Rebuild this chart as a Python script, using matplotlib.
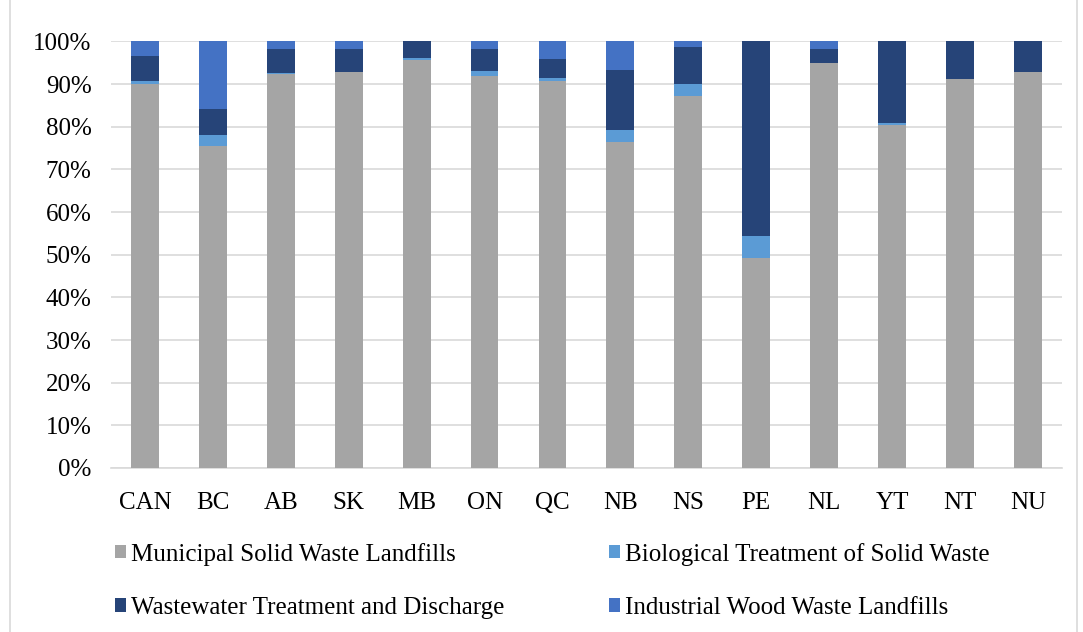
import numpy as np
from matplotlib import pyplot as plt
from matplotlib.patches import Rectangle

regions = ["CAN", "BC", "AB", "SK", "MB", "ON", "QC", "NB", "NS", "PE", "NL", "YT", "NT", "NU"]

# shares (%)
municipal  = [90.0, 75.5, 92.3, 92.8, 95.7, 91.8, 90.6, 76.5, 87.1, 49.2, 95.0, 80.3, 91.2, 92.8]
biological = [0.8, 2.5, 0.3, 0.1, 0.3, 1.3, 0.9, 2.8, 2.9, 5.2, 0.0, 0.5, 0.0, 0.0]
wastewater = [5.8, 6.2, 5.6, 5.3, 4.0, 5.2, 4.3, 14.1, 8.6, 45.6, 3.3, 19.2, 8.8, 7.2]
industrial = [3.4, 15.8, 1.8, 1.8, 0.0, 1.7, 4.2, 6.6, 1.4, 0.0, 1.7, 0.0, 0.0, 0.0]

series = [
    ("Municipal Solid Waste Landfills", municipal, "#A5A5A5"),
    ("Biological Treatment of Solid Waste", biological, "#5B9BD5"),
    ("Wastewater Treatment and Discharge", wastewater, "#264478"),
    ("Industrial Wood Waste Landfills", industrial, "#4472C4"),
]

plt.rcParams['font.family'] = ['Liberation Serif', 'DejaVu Serif']

fig = plt.figure(figsize=(10.83, 6.32), dpi=100)
ax = fig.add_axes([0.1025, 0.2595, 0.878, 0.675])

x = np.arange(len(regions))
total = np.array(municipal) + np.array(biological) + np.array(wastewater) + np.array(industrial)
bottom = np.zeros(len(regions))
handles = {}
for name, vals, col in series:
    frac = np.array(vals) / total
    handles[name] = ax.bar(x, frac, 0.41, bottom=bottom, color=col, label=name, zorder=3)
    bottom += frac

ax.set_ylim(0, 1)
ax.set_xlim(-0.5, len(regions) - 0.5)
ticks = np.arange(0, 1.01, 0.1)
ax.set_yticks(ticks)
ax.set_yticklabels([f"{int(round(v * 100))}%" for v in ticks])
ax.set_xticks(x)
ax.set_xticklabels(regions)
ax.tick_params(length=0, labelsize=18)
ax.tick_params(axis="y", pad=14)
ax.tick_params(axis="x", pad=17)
ax.yaxis.grid(True, color="#D9D9D9", linewidth=1.2, zorder=0)
for s in ["top", "right", "left"]:
    ax.spines[s].set_visible(False)
ax.spines["bottom"].set_color("#D9D9D9")
ax.spines["bottom"].set_linewidth(1.2)

order = [series[0][0], series[2][0], series[1][0], series[3][0]]
fig.legend([handles[n] for n in order], order, ncol=2, loc="upper left",
           bbox_to_anchor=(0.085, 0.177), frameon=False, fontsize=18,
           handlelength=0.45, handleheight=0.45, handletextpad=0.2,
           columnspacing=4.2, labelspacing=1.25)

fig.patches.append(Rectangle((0.009, -0.01), 0.985, 1.02, transform=fig.transFigure,
                             fill=False, edgecolor="#D9D9D9", linewidth=1.2))

fig.savefig("out.png", dpi=100)
